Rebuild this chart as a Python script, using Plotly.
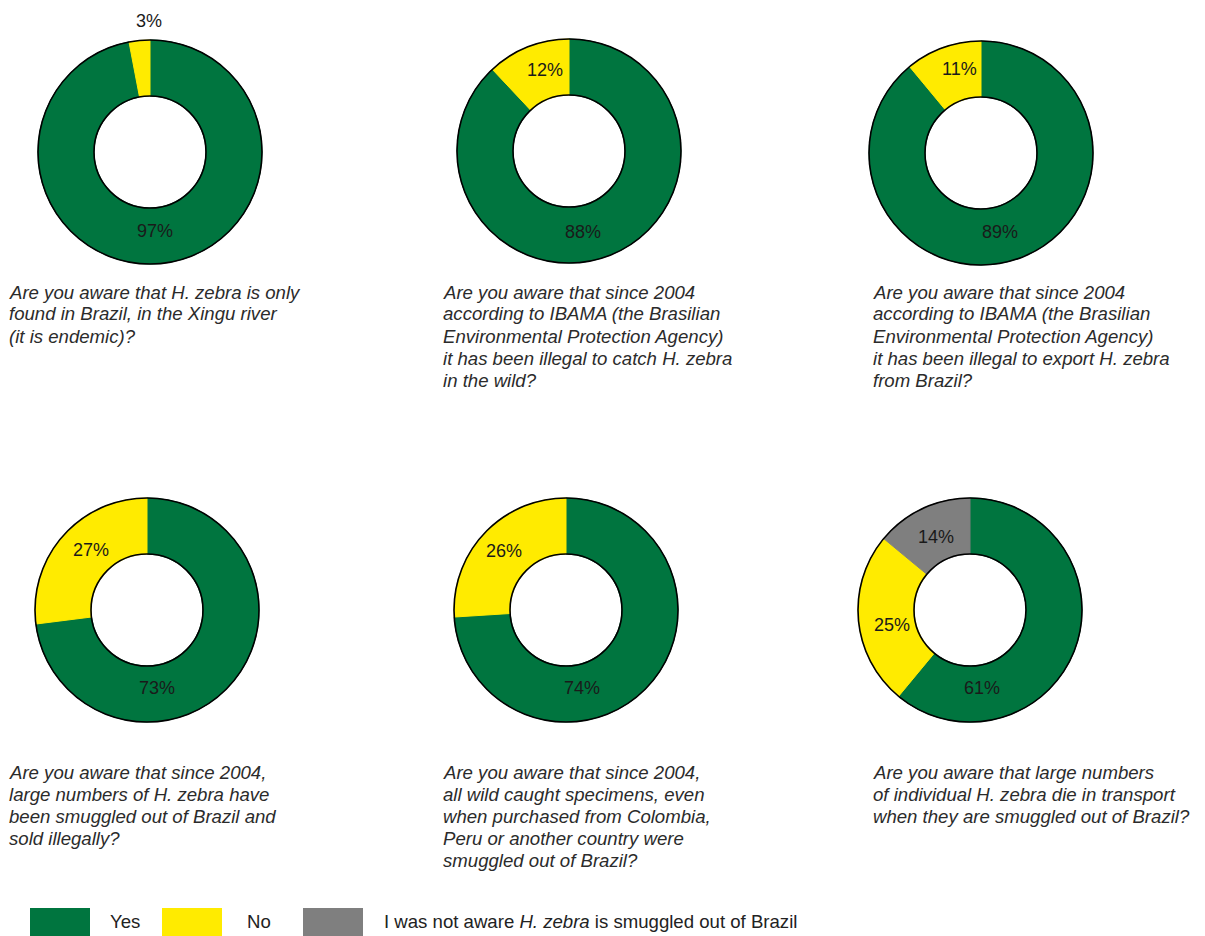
import plotly.graph_objects as go

# Survey answers (percent of respondents) for each question
categories = ["Yes", "No", "I was not aware H. zebra is smuggled out of Brazil"]
q1_values = [97, 3]
q2_values = [88, 12]
q3_values = [89, 11]
q4_values = [73, 27]
q5_values = [74, 26]
q6_values = [61, 25, 14]

questions = [
    ["Are you aware that H. zebra is only", "found in Brazil, in the Xingu river",
     "(it is endemic)?"],
    ["Are you aware that since 2004", "according to IBAMA (the Brasilian",
     "Environmental Protection Agency)", "it has been illegal to catch H. zebra",
     "in the wild?"],
    ["Are you aware that since 2004", "according to IBAMA (the Brasilian",
     "Environmental Protection Agency)", "it has been illegal to export H. zebra",
     "from Brazil?"],
    ["Are you aware that since 2004,", "large numbers of H. zebra have",
     "been smuggled out of Brazil and", "sold illegally?"],
    ["Are you aware that since 2004,", "all wild caught specimens, even",
     "when purchased from Colombia,", "Peru or another country were",
     "smuggled out of Brazil?"],
    ["Are you aware that large numbers", "of individual H. zebra die in transport",
     "when they are smuggled out of Brazil?"],
]

all_values = [q1_values, q2_values, q3_values, q4_values, q5_values, q6_values]

# ---- styling / layout ----
W, H = 1205, 936
GREEN, YELLOW, GREY = "#00753F", "#FFEB00", "#7F7F7F"
slice_colors = [GREEN, YELLOW, GREY]
R_OUT = 112          # outer radius in px
HOLE = 0.5
FONT = "Liberation Sans, Arial, sans-serif"
Q_SIZE = 18.6
Q_LINE = 22

# donut centres (px from top-left)
centres = [(150, 152), (569, 151), (981, 153), (147, 610), (566, 610), (970, 610)]
# per-slice label offsets from the centre (px)
label_offsets = [
    [(5, 79), (-1, -131)],
    [(14, 81), (-24, -81)],
    [(19, 79), (-21, -84)],
    [(10, 78), (-56, -60)],
    [(16, 78), (-62, -59)],
    [(12, 78), (-78, 15), (-34, -73)],
]
# question text: left x and centre y of the first line (px)
question_pos = [(8, 292), (442, 292), (872, 292), (8, 772), (442, 772), (872, 772)]


def px(x):
    return x / W


def py(y):
    return 1 - y / H


fig = go.Figure()
shapes = []
annotations = []

for i, vals in enumerate(all_values):
    cx, cy = centres[i]
    n = len(vals)
    cols = slice_colors[:n]
    fig.add_trace(go.Pie(
        values=vals,
        labels=categories[:n],
        sort=False,
        direction="clockwise",
        rotation=0,
        hole=HOLE,
        textinfo="none",
        hoverinfo="label+value",
        marker=dict(colors=cols, line=dict(color=cols, width=1)),
        domain=dict(x=[px(cx - R_OUT), px(cx + R_OUT)],
                    y=[py(cy + R_OUT), py(cy - R_OUT)]),
        showlegend=False,
    ))
    # outline only on the outer and inner rims
    for r in (R_OUT, R_OUT * HOLE):
        shapes.append(dict(type="circle", xref="paper", yref="paper",
                           x0=px(cx - r), x1=px(cx + r),
                           y0=py(cy + r), y1=py(cy - r),
                           line=dict(color="black", width=1.6),
                           fillcolor="rgba(0,0,0,0)", layer="above"))
    # percentage labels
    for v, (dx, dy) in zip(vals, label_offsets[i]):
        annotations.append(dict(xref="paper", yref="paper",
                                x=px(cx + dx), y=py(cy + dy),
                                text=f"{v}%", showarrow=False,
                                xanchor="center", yanchor="middle",
                                font=dict(family=FONT, size=18, color="#1a1a1a")))
    # question text, one line per annotation
    qx, qy = question_pos[i]
    for k, line in enumerate(questions[i]):
        annotations.append(dict(xref="paper", yref="paper",
                                x=px(qx), y=py(qy + k * Q_LINE),
                                text=f"<i>{line}</i>", showarrow=False,
                                xanchor="left", yanchor="middle", align="left",
                                borderpad=0,
                                font=dict(family=FONT, size=Q_SIZE, color="#2b2b2b")))

# legend
legend_items = [
    (30, "Yes", 109),
    (162, "No", 246),
    (303, "I was not aware <i>H. zebra</i> is smuggled out of Brazil", 383),
]
for (x0, txt, tx), col in zip(legend_items, slice_colors):
    shapes.append(dict(type="rect", xref="paper", yref="paper",
                       x0=px(x0), x1=px(x0 + 60), y0=py(940), y1=py(908),
                       fillcolor=col, line=dict(width=0), layer="above"))
    annotations.append(dict(xref="paper", yref="paper", x=px(tx), y=py(921),
                            text=txt, showarrow=False, xanchor="left",
                            yanchor="middle", borderpad=0,
                            font=dict(family=FONT, size=18.6, color="#222222")))

fig.update_layout(
    width=W, height=H,
    margin=dict(l=0, r=0, t=0, b=0),
    paper_bgcolor="white", plot_bgcolor="white",
    shapes=shapes, annotations=annotations,
)

fig.write_html("out.html")
